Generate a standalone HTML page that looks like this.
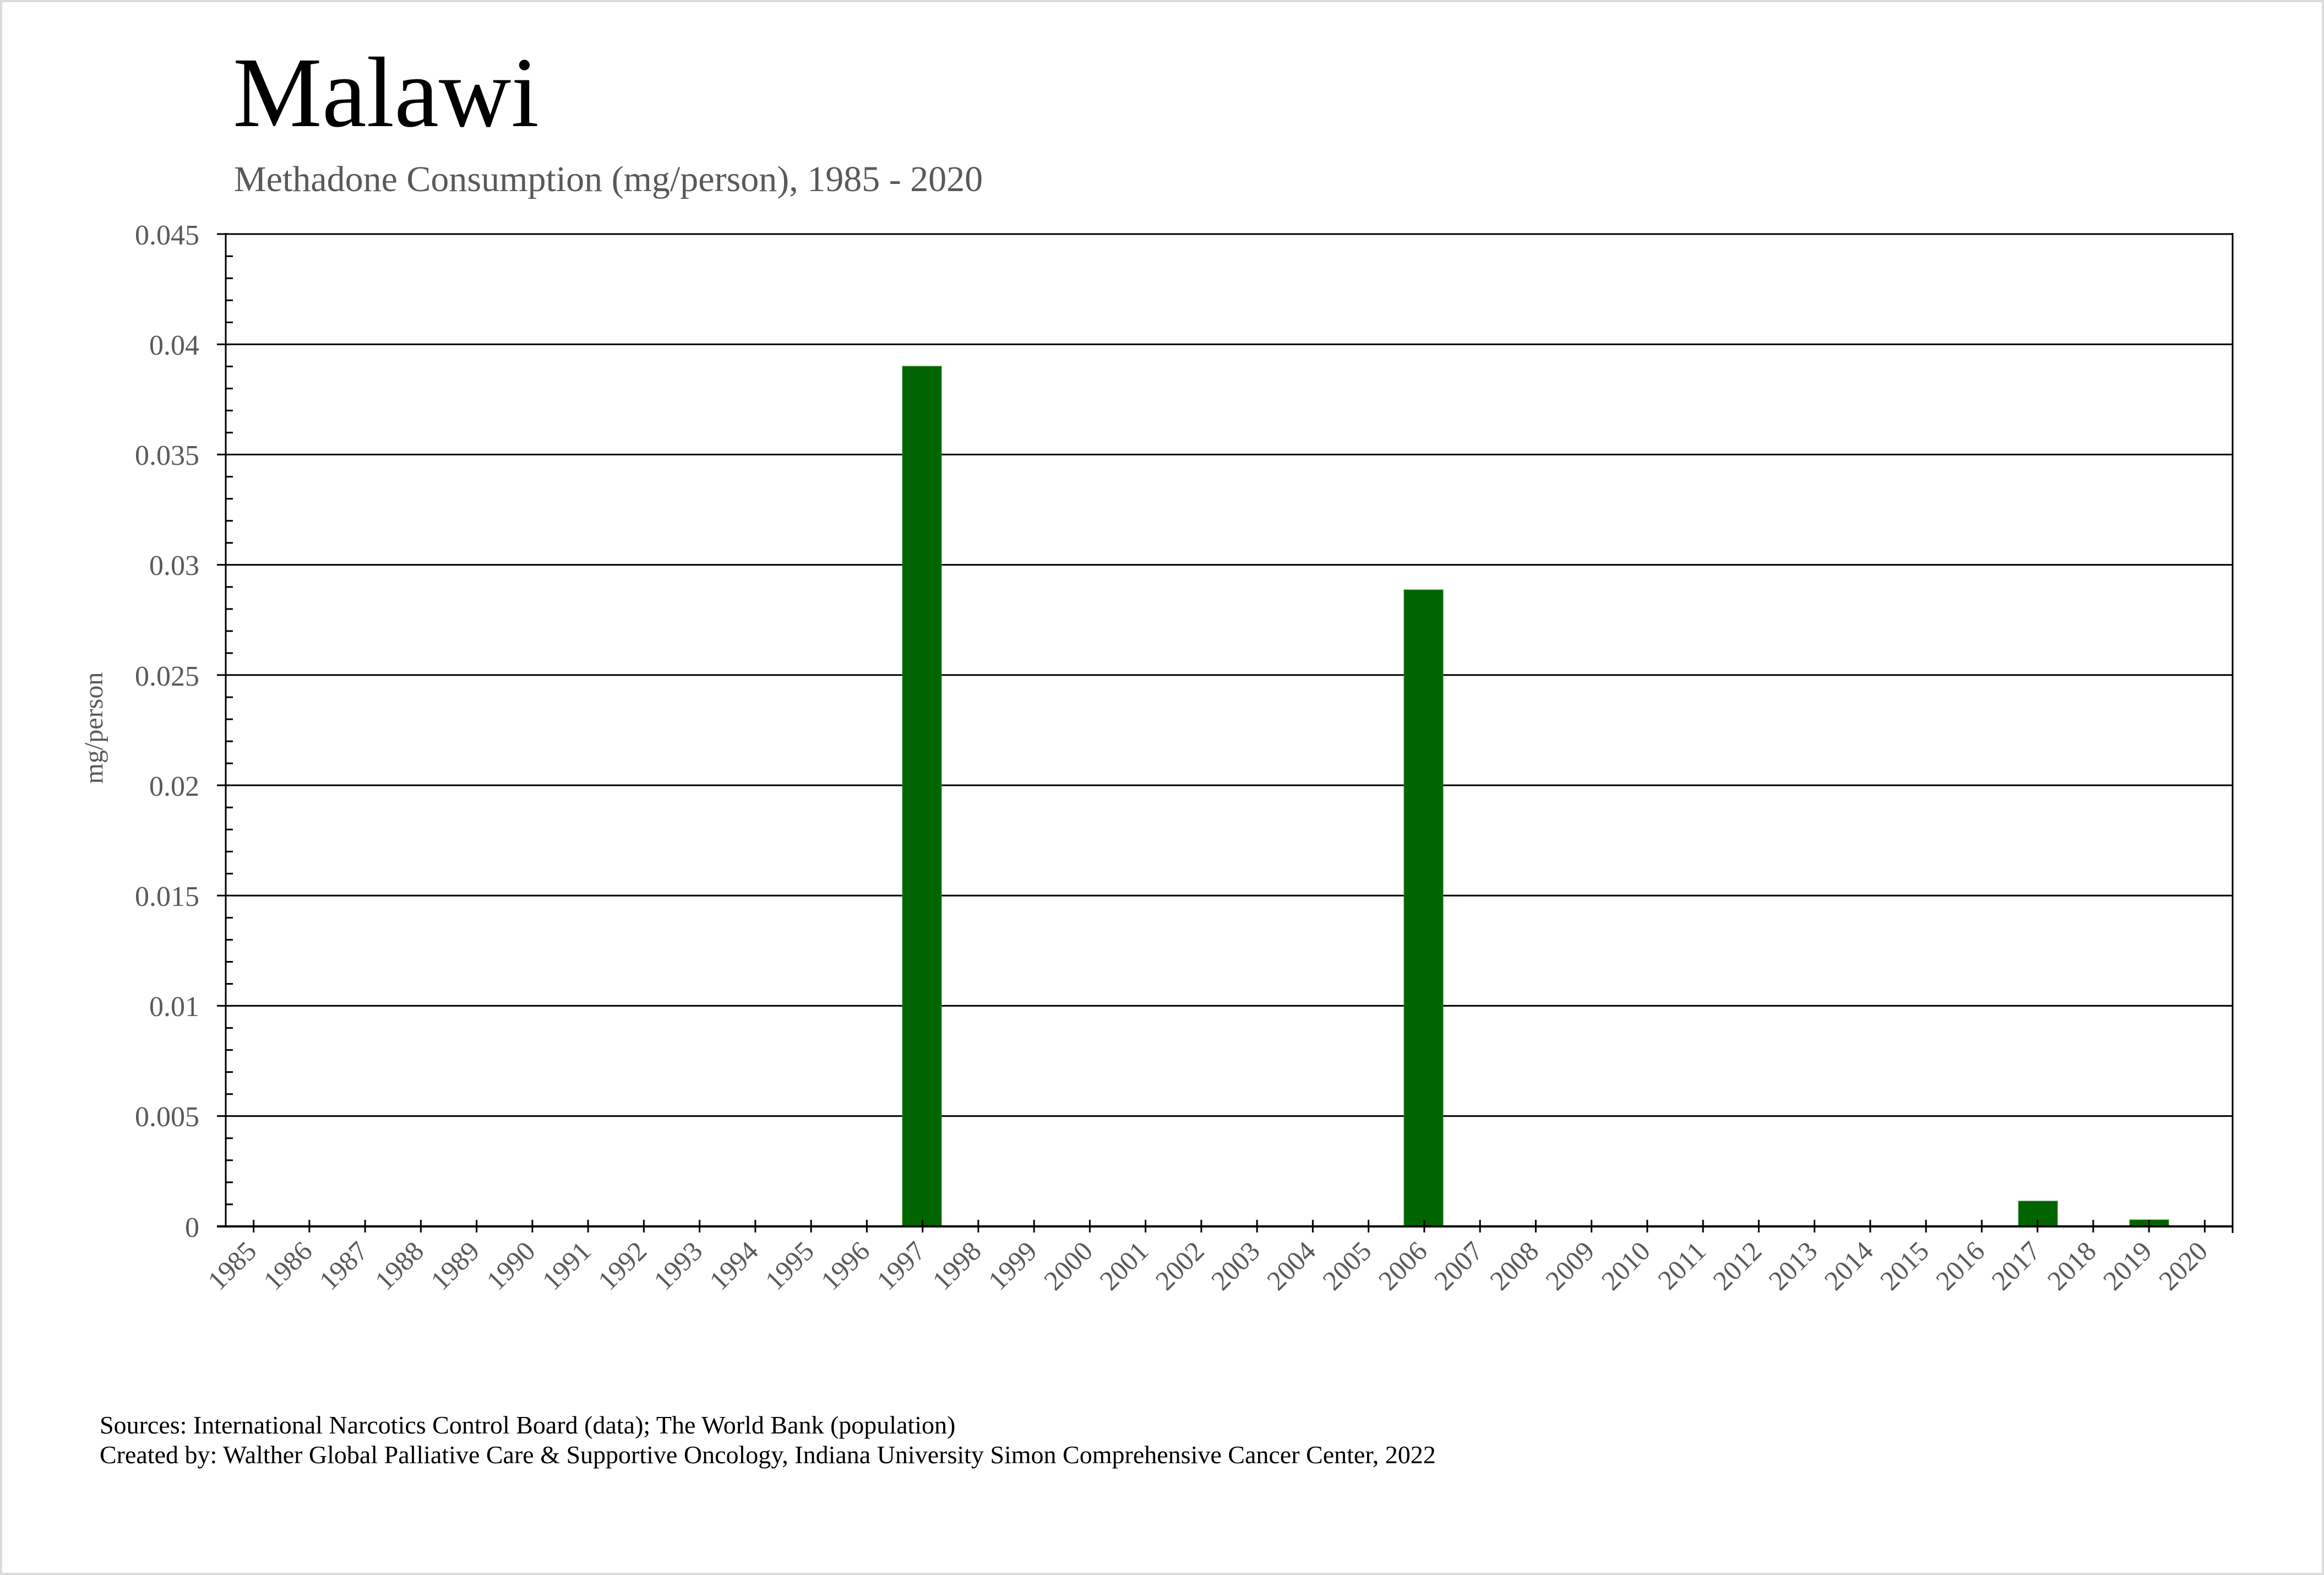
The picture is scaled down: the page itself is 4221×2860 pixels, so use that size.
<!DOCTYPE html>
<html><head><meta charset="utf-8"><style>
html,body{margin:0;padding:0;background:#fff}
svg{display:block}
</style></head><body>
<svg width="4221" height="2860" viewBox="0 0 4221 2860" xmlns="http://www.w3.org/2000/svg" font-family="'Liberation Serif', serif">
<rect x="2" y="2" width="4217" height="2856" fill="#fff" stroke="#dcdcdc" stroke-width="4"/>
<text x="423" y="229" font-size="182" fill="#000">Malawi</text>
<text x="425" y="347" font-size="66" fill="#595959">Methadone Consumption (mg/person), 1985 - 2020</text>
<text transform="translate(186,1322) rotate(-90)" text-anchor="middle" font-size="48" fill="#595959">mg/person</text>
<g id="grid" stroke="#000" stroke-width="3">
<line x1="394" y1="425" x2="4055" y2="425"/>
<line x1="394" y1="625.2" x2="4055" y2="625.2"/>
<line x1="394" y1="825.4" x2="4055" y2="825.4"/>
<line x1="394" y1="1025.6" x2="4055" y2="1025.6"/>
<line x1="394" y1="1225.8" x2="4055" y2="1225.8"/>
<line x1="394" y1="1426" x2="4055" y2="1426"/>
<line x1="394" y1="1626.2" x2="4055" y2="1626.2"/>
<line x1="394" y1="1826.4" x2="4055" y2="1826.4"/>
<line x1="394" y1="2026.6" x2="4055" y2="2026.6"/>
<line x1="410" y1="423" x2="410" y2="2229"/>
<line x1="4055" y1="423" x2="4055" y2="2239"/>
</g>
<g fill="#006400" stroke="#3a8a3a" stroke-width="1">
<rect x="1639" y="665" width="71" height="1562"/>
<rect x="2550" y="1071" width="71" height="1156"/>
<rect x="3666" y="2181" width="71" height="46"/>
<rect x="3868" y="2215" width="71" height="12"/>
</g>
<line x1="394" y1="2227" x2="4055" y2="2227" stroke="#000" stroke-width="4"/>
<g stroke="#000" stroke-width="3" id="minor"></g>
<g id="yl" font-size="52" fill="#595959" text-anchor="end">
<text x="362" y="444">0.045</text>
<text x="362" y="644">0.04</text>
<text x="362" y="844">0.035</text>
<text x="362" y="1044">0.03</text>
<text x="362" y="1245">0.025</text>
<text x="362" y="1445">0.02</text>
<text x="362" y="1645">0.015</text>
<text x="362" y="1845">0.01</text>
<text x="362" y="2045">0.005</text>
<text x="362" y="2246">0</text>
</g>
<g id="xt" stroke="#000" stroke-width="3"></g>
<g id="xl" font-size="50" fill="#595959" text-anchor="end"></g>
<text x="181" y="2603" font-size="46" fill="#000">Sources: International Narcotics Control Board (data); The World Bank (population)</text>
<text x="181" y="2657" font-size="46" fill="#000">Created by: Walther Global Palliative Care &amp; Supportive Oncology, Indiana University Simon Comprehensive Cancer Center, 2022</text>
</svg>
<script>
var ns="http://www.w3.org/2000/svg";
var m=document.getElementById("minor");
for(var i=0;i<45;i++){if(i%5==0)continue;var y=2227-i*40.04;var l=document.createElementNS(ns,"line");l.setAttribute("x1",410);l.setAttribute("x2",423);l.setAttribute("y1",y);l.setAttribute("y2",y);m.appendChild(l);}
var xt=document.getElementById("xt"),xl=document.getElementById("xl");
for(var k=0;k<36;k++){var x=410+(k+0.5)*101.25;var l=document.createElementNS(ns,"line");l.setAttribute("x1",x);l.setAttribute("x2",x);l.setAttribute("y1",2215);l.setAttribute("y2",2238);xt.appendChild(l);
var t=document.createElementNS(ns,"text");t.setAttribute("transform","translate("+(x+8)+",2275) rotate(-45)");t.textContent=1985+k;xl.appendChild(t);}
</script>
</body></html>
